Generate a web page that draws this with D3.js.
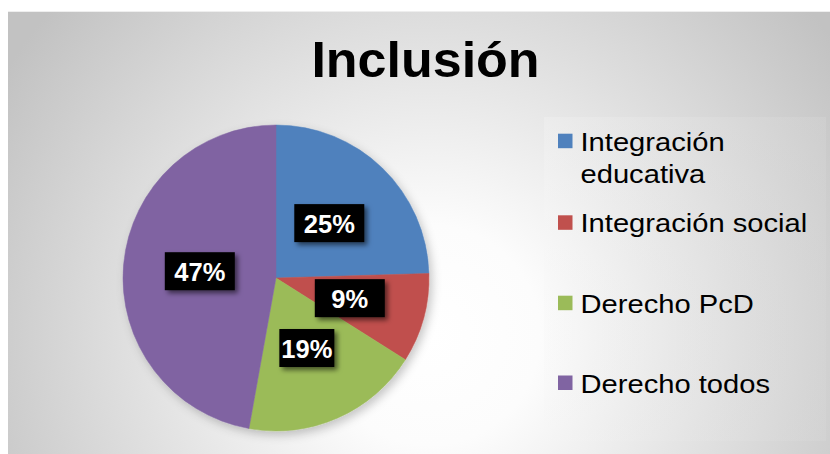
<!DOCTYPE html>
<html><head><meta charset="utf-8">
<script src="https://cdn.jsdelivr.net/npm/d3@7"></script>
<style>html,body{margin:0;padding:0;background:#fff;}svg{display:block;}</style>
</head><body>
<script>
const categories = ["Integración educativa", "Integración social", "Derecho PcD", "Derecho todos"];
const legendLines = [["Integración", "educativa"], ["Integración social"], ["Derecho PcD"], ["Derecho todos"]];
const values = [26, 10, 20, 50];
const colors = ["#4f81bd", "#c0504d", "#9bbb59", "#8064a2"];
const title = "Inclusión";

const W = 830, H = 454;
const svg = d3.select("body").append("svg").attr("width", W).attr("height", H);
const defs = svg.append("defs");
const grad = defs.append("radialGradient").attr("id", "bg").attr("gradientUnits", "userSpaceOnUse")
  .attr("cx", 430).attr("cy", 335).attr("r", 500);
grad.append("stop").attr("offset", "0%").attr("stop-color", "#ffffff");
grad.append("stop").attr("offset", "22%").attr("stop-color", "#fcfcfc");
grad.append("stop").attr("offset", "100%").attr("stop-color", "#c2c2c2");
const lg = defs.append("linearGradient").attr("id", "legbg").attr("x1", "0%").attr("x2", "100%").attr("y1", "0%").attr("y2", "0%");
lg.append("stop").attr("offset", "0%").attr("stop-color", "#f6f6f6");
lg.append("stop").attr("offset", "100%").attr("stop-color", "#d9d9d9");

const sh = defs.append("filter").attr("id", "shadow").attr("x", "-30%").attr("y", "-30%").attr("width", "170%").attr("height", "170%");
sh.append("feDropShadow").attr("dx", 3).attr("dy", 3).attr("stdDeviation", 2.5).attr("flood-color", "#000").attr("flood-opacity", 0.55);
const psh = defs.append("filter").attr("id", "pshadow").attr("x", "-20%").attr("y", "-20%").attr("width", "140%").attr("height", "140%");
psh.append("feDropShadow").attr("dx", 3).attr("dy", 4).attr("stdDeviation", 5).attr("flood-color", "#000").attr("flood-opacity", 0.22);

svg.append("rect").attr("x", 8).attr("y", 12).attr("width", W - 8).attr("height", H - 12).attr("fill", "url(#bg)");
svg.append("line").attr("x1", 8).attr("x2", W).attr("y1", 11.5).attr("y2", 11.5).attr("stroke", "#eeeeee");
// legend panel
svg.append("rect").attr("x", 544).attr("y", 117).attr("width", 282).attr("height", 324).attr("fill", "url(#legbg)").attr("opacity", 0.3);

svg.append("text").attr("transform", "translate(425.5,77) scale(1.04,1)").attr("text-anchor", "middle")
  .attr("font-family", "Liberation Sans, Arial, sans-serif").attr("font-weight", "bold")
  .attr("font-size", 50).attr("fill", "#000").text(title);

const cx = 276, cy = 278, R = 153;
const total = d3.sum(values);
const pie = d3.pie().sort(null).value(d => d);
const arcs = pie(values);
const arc = d3.arc().innerRadius(0).outerRadius(R);
const g = svg.append("g").attr("transform", `translate(${cx},${cy})`);
g.append("g").attr("filter", "url(#pshadow)").selectAll("path").data(arcs).join("path")
  .attr("d", arc).attr("fill", (d, i) => colors[i]).attr("stroke", (d, i) => colors[i]).attr("stroke-width", 0.5);

const labelArc = d3.arc().innerRadius(0).outerRadius(R);
const bw = [70, 70, 55, 70];
const lbl = g.selectAll("g.lbl").data(arcs).join("g").attr("class", "lbl")
  .attr("transform", d => { const c = labelArc.centroid(d); return `translate(${c[0]},${c[1]})`; });
lbl.append("rect").attr("x", (d, i) => -bw[i] / 2).attr("y", -19).attr("width", (d, i) => bw[i]).attr("height", 38)
  .attr("fill", "#000").attr("filter", "url(#shadow)");
lbl.append("text").attr("text-anchor", "middle").attr("y", 10)
  .attr("font-family", "Liberation Sans, Arial, sans-serif").attr("font-weight", "bold").attr("font-size", 25.5)
  .attr("fill", "#fff").text(d => Math.round(d.value / total * 100) + "%");

const lx = 558, tx = 580.5, baselines = [150.7, 232.3, 312.7, 392.5];
const leg = svg.append("g");
categories.forEach((c, i) => {
  leg.append("rect").attr("x", lx).attr("y", baselines[i] - 17).attr("width", 14.5).attr("height", 14.5).attr("fill", colors[i]);
  const t = leg.append("text").attr("transform", `translate(${tx},${baselines[i]}) scale(1.1,1)`)
    .attr("font-family", "Liberation Sans, Arial, sans-serif").attr("font-size", 26.5).attr("fill", "#000");
  legendLines[i].forEach((ln, j) => {
    t.append("tspan").attr("x", 0).attr("dy", j === 0 ? 0 : 32.6).text(ln);
  });
});
</script>
</body></html>
